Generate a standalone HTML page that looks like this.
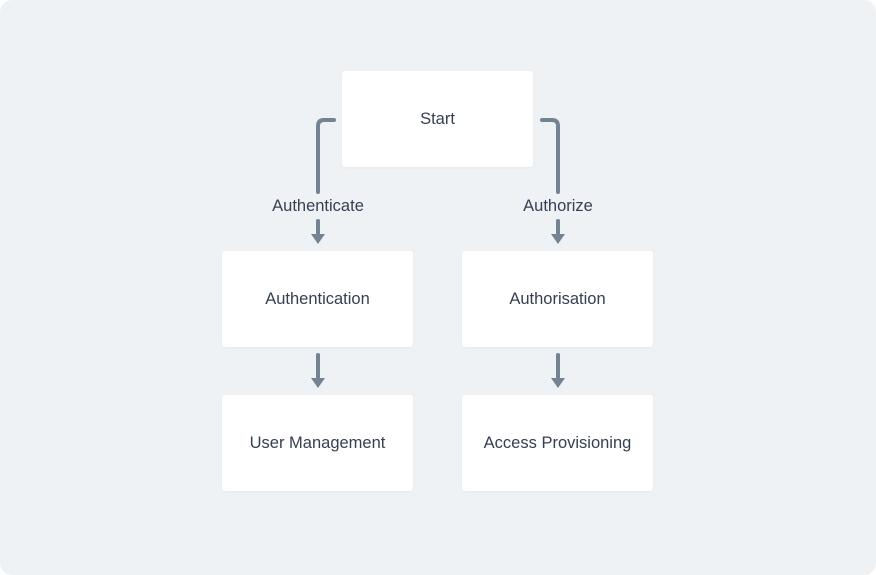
<!DOCTYPE html>
<html><head><style>
html,body{margin:0;padding:0;background:#fff;}
.wrap{position:relative;width:876px;height:575px;background:#eff2f5;border-radius:12px;overflow:hidden;font-family:"Liberation Sans",sans-serif;}
.box{position:absolute;background:#fff;border-radius:3px;width:191px;height:96px;display:flex;align-items:center;justify-content:center;color:#354052;font-size:16.5px;box-shadow:0 1px 2px rgba(0,0,0,0.04);}
.lbl{position:absolute;color:#354052;font-size:16.5px;transform:translateX(-50%);top:197px;white-space:nowrap;}
</style></head><body>
<div class="wrap">
<svg width="876" height="575" style="position:absolute;left:0;top:0">
<g stroke="#738394" stroke-width="4" fill="none" stroke-linecap="round">
<path d="M334 120 H324 Q318 120 318 126 V192"/>
<path d="M542 120 H552 Q558 120 558 126 V192"/>
<path d="M318 221 V236"/><path d="M558 221 V236"/>
<path d="M318 355 V380"/><path d="M558 355 V380"/>
</g>
<g fill="#738394">
<path d="M311 234 H325 L318 244 Z"/><path d="M551 234 H565 L558 244 Z"/>
<path d="M311 378 H325 L318 388 Z"/><path d="M551 378 H565 L558 388 Z"/>
</g>
</svg>
<div class="box" style="left:342px;top:71px">Start</div>
<div class="box" style="left:222px;top:251px">Authentication</div>
<div class="box" style="left:462px;top:251px">Authorisation</div>
<div class="box" style="left:222px;top:395px">User Management</div>
<div class="box" style="left:462px;top:395px">Access Provisioning</div>
<div class="lbl" style="left:318px">Authenticate</div>
<div class="lbl" style="left:558px">Authorize</div>
</div>
</body></html>
